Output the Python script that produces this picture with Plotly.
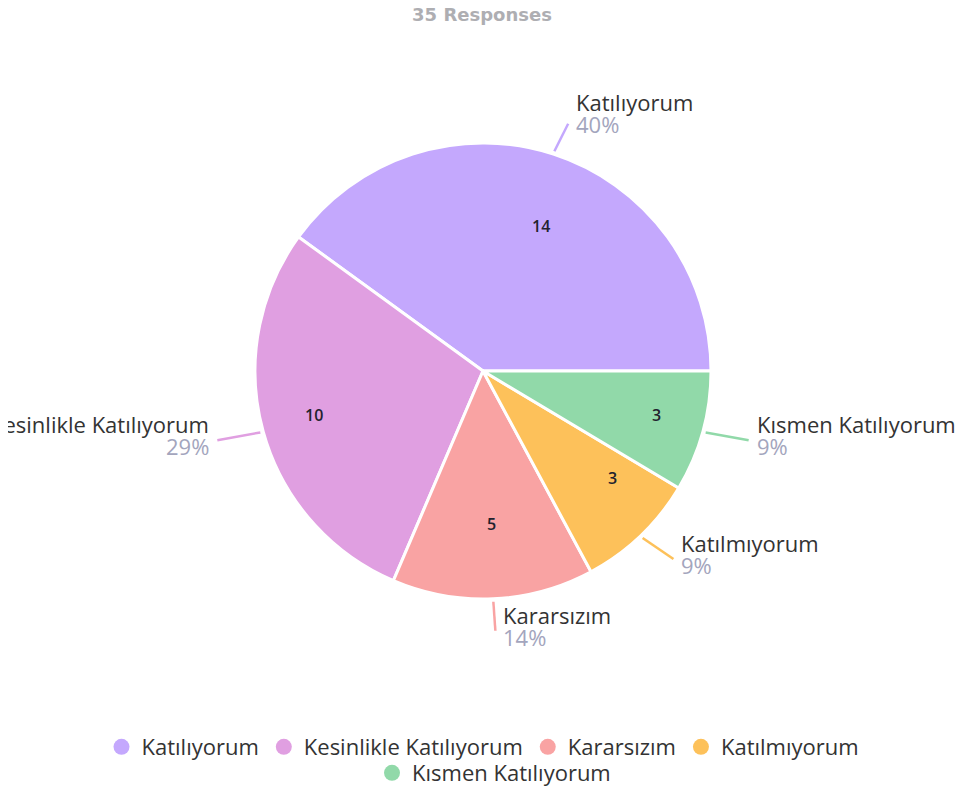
import math
import plotly.graph_objects as go

categories = ["Katılıyorum", "Kesinlikle Katılıyorum", "Kararsızım", "Katılmıyorum", "Kısmen Katılıyorum"]
counts = [14, 10, 5, 3, 3]
colors = ["#C4A8FD", "#E09FE1", "#F9A3A3", "#FDC15A", "#91D9A9"]
title_text = "35 Responses"

OFF = 8                      # default page body margin (top/left)
W, H = 963 - OFF, 788 - OFF  # figure fills the rest of the window
MB = 90                      # bottom margin reserved for the legends
PH = H - MB                  # plot-area height
CX, CY, R = 483, 371, 228    # pie centre / radius in screen pixels
FONT = "Open Sans, Arial, sans-serif"
LABEL_COLOR = "#333333"
PCT_COLOR = "#A3A5BD"
FS = 22
HX = 1.06                    # horizontal spread of outside labels


def px(x, y):
    """screen pixel -> plot-area (paper) coords"""
    return (x - OFF) / W, 1 - (y - OFF) / PH


def cont(x, y):
    """screen pixel -> container coords"""
    return (x - OFF) / W, 1 - (y - OFF) / H


total = sum(counts)
fig = go.Figure()
(dx0, dy1), (dx1, dy0) = px(CX - R, CY - R), px(CX + R, CY + R)
fig.add_trace(go.Pie(
    labels=categories, values=counts,
    marker=dict(colors=colors, line=dict(color="white", width=3)),
    sort=False, direction="counterclockwise",
    rotation=90 - 360 * counts[0] / total,
    textinfo="none", showlegend=False, hoverinfo="label+value+percent",
    domain=dict(x=[dx0, dx1], y=[dy0, dy1]),
))

# legend entries with circle markers
for i, (cat, col) in enumerate(zip(categories, colors)):
    fig.add_trace(go.Scatter(
        x=[None], y=[None], mode="markers", name=cat,
        marker=dict(symbol="circle", size=20, color=col),
        legend="legend" if i < 4 else "legend2",
    ))

annotations = []
shapes = []
cum = 0
for cat, v, col in zip(categories, counts, colors):
    mid = 2 * math.pi * (cum + v / 2) / total
    cum += v
    c, s = math.cos(mid), math.sin(mid)
    # value inside slice
    xi, yi = px(CX + 0.82 * R * c, CY - 0.73 * R * s)
    annotations.append(dict(x=xi, y=yi, xref="paper", yref="paper", text=str(v),
                            showarrow=False,
                            font=dict(size=16, color="#22222e", family=FONT, weight=600)))
    # leader line
    x0, y0 = px(CX + (R + 3) * c, CY - (R + 3) * s)
    x1, y1 = px(CX + (R + 32) * c * HX, CY - (R + 32) * s)
    shapes.append(dict(type="line", xref="paper", yref="paper", x0=x0, y0=y0, x1=x1, y1=y1,
                       line=dict(color=col, width=2.5)))
    pct = round(100 * v / total)
    right = c > -0.05
    ex = CX + (R + 32) * c * HX + (6 if right else -6)
    ey = CY - (R + 32) * s - 5 - 6 * max(s, 0)
    anchor = "left" if right else "right"
    xa, ya = px(ex, ey - 11)
    annotations.append(dict(
        x=xa, y=ya, xref="paper", yref="paper", showarrow=False,
        xanchor=anchor, yanchor="middle", text=cat,
        font=dict(size=FS, color=LABEL_COLOR, family=FONT),
    ))
    xa, ya = px(ex, ey + 11)
    annotations.append(dict(
        x=xa, y=ya, xref="paper", yref="paper", showarrow=False,
        xanchor=anchor, yanchor="middle", text=f"{pct}%",
        font=dict(size=FS, color=PCT_COLOR, family=FONT),
    ))

tx, ty = cont(482, 15)
lx1, ly1 = cont(483, 747)
lx2, ly2 = cont(494, 773)
fig.update_layout(
    width=W, height=H, autosize=False,
    margin=dict(l=0, r=0, t=0, b=MB),
    paper_bgcolor="white", plot_bgcolor="white",
    title=dict(text=title_text, x=tx, xanchor="center", y=ty, yanchor="middle",
               xref="container", yref="container",
               font=dict(size=18, color="#AEAEB2", family="DejaVu Sans, Verdana, sans-serif", weight="bold")),
    xaxis=dict(visible=False), yaxis=dict(visible=False),
    legend=dict(orientation="h", x=lx1, xanchor="center", y=ly1, yanchor="middle",
                xref="container", yref="container",
                font=dict(size=FS, color=LABEL_COLOR, family=FONT), bgcolor="rgba(0,0,0,0)"),
    legend2=dict(orientation="h", x=lx2, xanchor="center", y=ly2, yanchor="middle",
                 xref="container", yref="container",
                 font=dict(size=FS, color=LABEL_COLOR, family=FONT), bgcolor="rgba(0,0,0,0)"),
    annotations=annotations, shapes=shapes,
)

fig.write_html("out.html")
